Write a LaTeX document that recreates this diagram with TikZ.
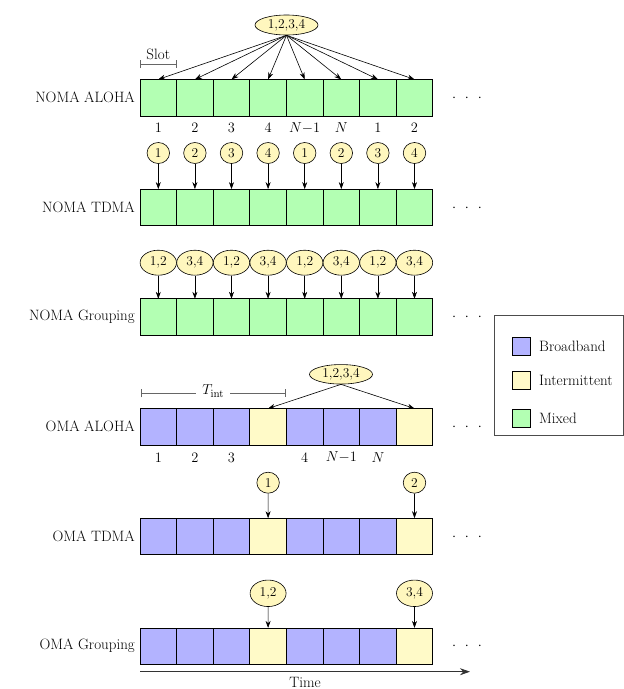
\documentclass[tikz,border=0pt]{standalone}
\usetikzlibrary{arrows.meta,shapes.geometric}
\definecolor{mixg}{RGB}{179,255,179}
\definecolor{bbb}{RGB}{179,179,255}
\definecolor{intY}{RGB}{255,250,200}
\definecolor{ellY}{RGB}{255,247,190}
\tikzset{
  slotbox/.style={draw=black, line width=0.8pt, minimum width=36.6pt, minimum height=36.6pt, inner sep=0pt, outer sep=0pt},
  user/.style={ellipse, draw=black, line width=0.6pt, fill=ellY, inner sep=0pt, font=\fontsize{13.5}{15}\selectfont},
  arr/.style={-{Stealth[length=7pt,width=5pt]}, line width=0.6pt},
  rowlabel/.style={anchor=east, font=\fontsize{15}{18}\selectfont, inner sep=0pt},
  numlabel/.style={font=\fontsize{15}{18}\selectfont, inner sep=0pt},
  dotsnode/.style={anchor=base, inner sep=0pt, font=\fontsize{15}{18}\selectfont},
  bracket/.style={{Bar[width=8pt]}-{Bar[width=8pt]}, draw=black!60, line width=0.8pt},
  legendtext/.style={anchor=west, font=\fontsize{15}{18}\selectfont, inner sep=0pt},
  swatch/.style={draw=black, line width=0.6pt, minimum width=18pt, minimum height=18pt, inner sep=0pt}
}
\begin{document}
\begin{tikzpicture}[x=1pt,y=-1pt]
\useasboundingbox (0,0) rectangle (624,689);
\fill[white] (0,0) rectangle (624,689);

% ---------- Row labels ----------
\node[rowlabel] (l1) at (135,97.7) {NOMA ALOHA};
\node[rowlabel] (l2) at (135,207.4) {NOMA TDMA};
\node[rowlabel] (l3) at (135,317.1) {NOMA Grouping};
\node[rowlabel] (l4) at (135,426.8) {OMA ALOHA};
\node[rowlabel] (l5) at (135,536.5) {OMA TDMA};
\node[rowlabel] (l6) at (135,646.2) {OMA Grouping};

% ---------- NOMA rows (mixed) ----------
\foreach \r/\yy in {a/97.7,b/207.4,c/317.1}{
  \foreach \i in {1,...,8}{
    \node[slotbox, fill=mixg] (\r\i) at ({140+36.6*(\i-0.5)},\yy) {};
  }
  \node[dotsnode] (dots\r) at (467,\yy+3.7) {$\cdot$\hspace{8.8pt}$\cdot$\hspace{8.8pt}$\cdot$};
}
% ---------- OMA rows ----------
\foreach \r/\yy in {d/426.8,e/536.5,f/646.2}{
  \foreach \i/\c in {1/bbb,2/bbb,3/bbb,4/intY,5/bbb,6/bbb,7/bbb,8/intY}{
    \node[slotbox, fill=\c] (\r\i) at ({140+36.6*(\i-0.5)},\yy) {};
  }
  \node[dotsnode] (dots\r) at (467,\yy+3.7) {$\cdot$\hspace{8.8pt}$\cdot$\hspace{8.8pt}$\cdot$};
}

% ---------- NOMA ALOHA ----------
\node[user, minimum width=63pt, minimum height=20pt] (ua) at (286.5,25) {1,2,3,4};
\foreach \i in {1,...,8}{
  \draw[arr] (ua.south) -- (a\i.north);
}
\foreach \i/\t in {1/1,2/2,3/3,4/4,5/{N{-}1},6/N,7/1,8/2}{
  \node[numlabel] (na\i) at ({140+36.6*(\i-0.5)},128) {$\t$};
}
\coordinate (slotL) at (140,64);
\coordinate (slotR) at (176.6,64);
\draw[bracket] (slotL) -- (slotR);
\node[numlabel] (slotlab) at (158.3,54) {Slot};

% ---------- NOMA TDMA ----------
\foreach \i/\t in {1/1,2/2,3/3,4/4,5/1,6/2,7/3,8/4}{
  \node[user, minimum width=22.5pt, minimum height=21pt] (ub\i) at ({140+36.6*(\i-0.5)},153) {\t};
  \draw[arr] (ub\i) -- (b\i.north);
}

% ---------- NOMA Grouping ----------
\foreach \i/\t in {1/{1,2},2/{3,4},3/{1,2},4/{3,4},5/{1,2},6/{3,4},7/{1,2},8/{3,4}}{
  \node[user, minimum width=36.4pt, minimum height=25pt] (uc\i) at ({140+36.6*(\i-0.5)},262.7) {\t};
  \draw[arr] (uc\i) -- (c\i.north);
}

% ---------- OMA ALOHA ----------
\node[user, minimum width=63pt, minimum height=19.5pt] (ud) at (341,374.3) {1,2,3,4};
\draw[arr] (ud.south) -- (d4.north);
\draw[arr] (ud.south) -- (d8.north);
\coordinate (tL) at (140.7,393.3);
\coordinate (tR) at (285.7,393.3);
\draw[bracket] (tL) -- (tR);
\node[numlabel, fill=white, inner xsep=6pt] (tint) at (213.2,391) {$T_{\mathrm{int}}$};
\foreach \i/\t in {1/1,2/2,3/3,5/4,6/{N{-}1},7/N}{
  \node[numlabel] (nd\i) at ({140+36.6*(\i-0.5)},457.5) {$\t$};
}

% ---------- OMA TDMA ----------
\node[user, minimum width=22.5pt, minimum height=21pt] (ue4) at (268.1,482.7) {1};
\node[user, minimum width=22.5pt, minimum height=21pt] (ue8) at (414.5,482.7) {2};
\draw[arr] (ue4) -- (e4.north);
\draw[arr] (ue8) -- (e8.north);

% ---------- OMA Grouping ----------
\node[user, minimum width=36pt, minimum height=26.5pt] (uf4) at (268.1,593.3) {1,2};
\node[user, minimum width=36pt, minimum height=26.5pt] (uf8) at (414.5,593.3) {3,4};
\draw[arr] (uf4) -- (f4.north);
\draw[arr] (uf8) -- (f8.north);

% ---------- Time axis ----------
\coordinate (t0) at (140,671.7);
\coordinate (t1) at (470,671.7);
\draw[-{Stealth[length=10pt,width=7pt]}, line width=0.8pt, draw=black!80] (t0) -- (t1);
\node[numlabel] (timelab) at (305,682) {Time};

% ---------- Legend ----------
\node[draw=black!70, line width=0.8pt, minimum width=129pt, minimum height=120pt, inner sep=0pt] (leg) at (558.5,375) {};
\node[swatch, fill=bbb] (sw1) at (521.5,346) {};
\node[swatch, fill=intY] (sw2) at (521.5,380.5) {};
\node[swatch, fill=mixg] (sw3) at (521.5,418) {};
\node[legendtext] (lt1) at (539,346) {Broadband};
\node[legendtext] (lt2) at (539,380.5) {Intermittent};
\node[legendtext] (lt3) at (539,418) {Mixed};
\end{tikzpicture}
\end{document}
